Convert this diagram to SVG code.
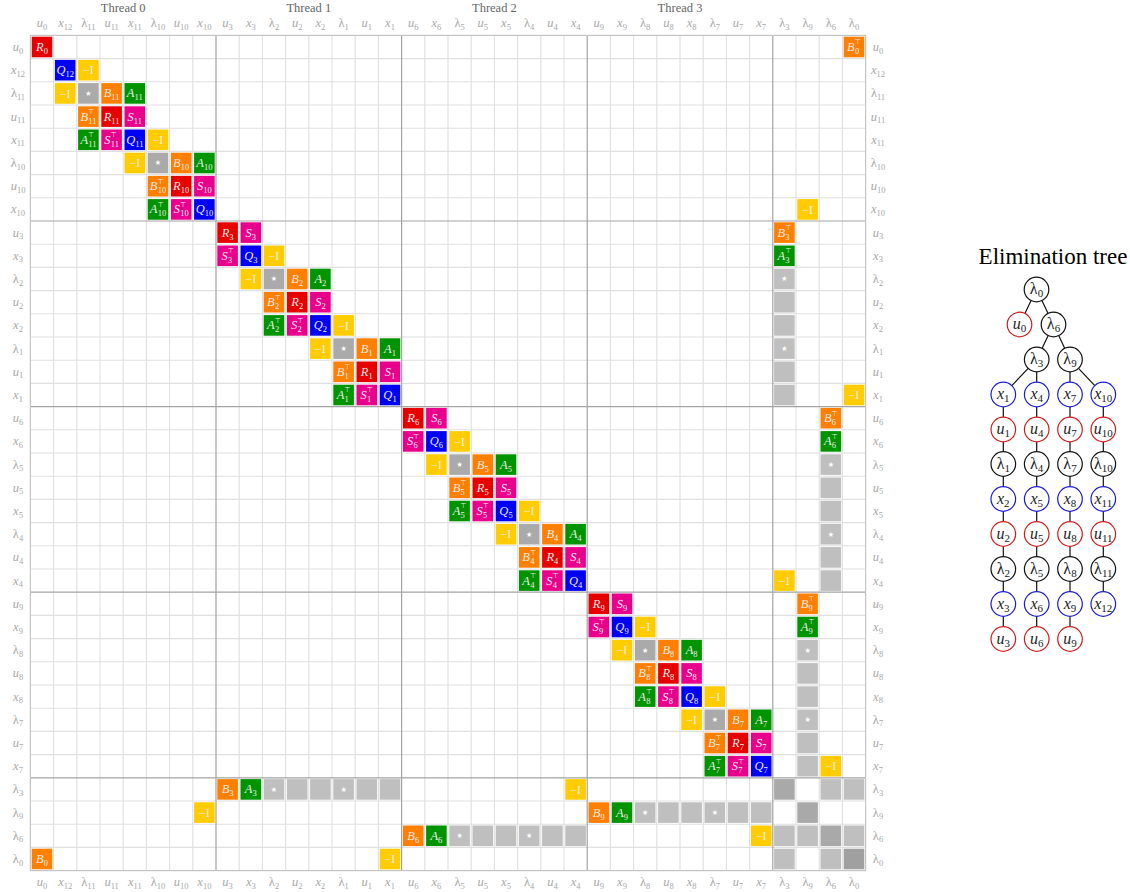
<svg xmlns="http://www.w3.org/2000/svg" xmlns:xlink="http://www.w3.org/1999/xlink" width="1130" height="892" viewBox="0 0 1130 892">
<style>
.R{fill:#e60000}.S{fill:#e8008c}.Q{fill:#0000f5}.B{fill:#ff7f00}.A{fill:#009400}.I{fill:#ffcc00}
.k{fill:#aaaaaa}.g{fill:#bfbfbf}.d{fill:#a9a9a9}.dd{fill:#a0a0a0}
.t{font-family:"Liberation Serif","DejaVu Serif",serif;font-size:12.5px;font-style:italic;fill:#ececec;text-anchor:middle}
.s{font-size:8.5px;font-style:normal}
.p{font-family:"DejaVu Sans",sans-serif;font-size:7px;font-style:normal}
.m{font-style:normal;font-size:12px}
.sr{font-family:"DejaVu Sans",sans-serif;font-size:14px;fill:#ffffff;text-anchor:middle}
.lb{font-family:"Liberation Serif","DejaVu Serif",serif;font-size:12.5px;font-style:italic;fill:#a8a8a8;text-anchor:middle}
.up{font-style:normal}
.s2{font-size:8.5px;font-style:normal}
.th{font-family:"Liberation Serif","DejaVu Serif",serif;font-size:12.5px;fill:#666666;text-anchor:middle}
.grid{fill:none;stroke:#e0e0e0;stroke-width:1.1}
.sep{fill:none;stroke:#a3a3a3;stroke-width:1.2}
.nd circle{fill:#ffffff;stroke-width:1.2}
.ck{stroke:#111111}.cb{stroke:#1c1cd6}.cr{stroke:#d01c1c}
.nt{font-family:"Liberation Serif","DejaVu Serif",serif;font-size:16px;fill:#222222;text-anchor:middle}
.nt .i{font-style:italic}
.ts{font-size:11px}
.edge{stroke:#111111;stroke-width:1.2;fill:none}
</style>
<defs>
<rect id="b" x="1.3" y="1.3" width="20.6" height="20.6"/>
</defs>
<rect width="1130" height="892" fill="#ffffff"/>

<!-- thread labels -->
<text class="th" x="123.2" y="12">Thread 0</text>
<text class="th" x="308.8" y="12">Thread 1</text>
<text class="th" x="494.4" y="12">Thread 2</text>
<text class="th" x="680" y="12">Thread 3</text>

<!-- grid -->
<path class="grid" d="M53.6 35.4V870.6M76.8 35.4V870.6M100 35.4V870.6M123.2 35.4V870.6M146.4 35.4V870.6M169.6 35.4V870.6M192.8 35.4V870.6M239.2 35.4V870.6M262.4 35.4V870.6M285.6 35.4V870.6M308.8 35.4V870.6M332 35.4V870.6M355.2 35.4V870.6M378.4 35.4V870.6M424.8 35.4V870.6M448 35.4V870.6M471.2 35.4V870.6M494.4 35.4V870.6M517.6 35.4V870.6M540.8 35.4V870.6M564 35.4V870.6M610.4 35.4V870.6M633.6 35.4V870.6M656.8 35.4V870.6M680 35.4V870.6M703.2 35.4V870.6M726.4 35.4V870.6M749.6 35.4V870.6M796 35.4V870.6M819.2 35.4V870.6M842.4 35.4V870.6M30.4 58.6H865.6M30.4 81.8H865.6M30.4 105H865.6M30.4 128.2H865.6M30.4 151.4H865.6M30.4 174.6H865.6M30.4 197.8H865.6M30.4 244.2H865.6M30.4 267.4H865.6M30.4 290.6H865.6M30.4 313.8H865.6M30.4 337H865.6M30.4 360.2H865.6M30.4 383.4H865.6M30.4 429.8H865.6M30.4 453H865.6M30.4 476.2H865.6M30.4 499.4H865.6M30.4 522.6H865.6M30.4 545.8H865.6M30.4 569H865.6M30.4 615.4H865.6M30.4 638.6H865.6M30.4 661.8H865.6M30.4 685H865.6M30.4 708.2H865.6M30.4 731.4H865.6M30.4 754.6H865.6M30.4 801H865.6M30.4 824.2H865.6M30.4 847.4H865.6"/>
<path class="sep" d="M216 35.4V870.6M401.6 35.4V870.6M587.2 35.4V870.6M772.8 35.4V870.6M30.4 221H865.6M30.4 406.6H865.6M30.4 592.2H865.6M30.4 777.8H865.6"/>
<rect x="30.4" y="35.4" width="835.2" height="835.2" fill="none" stroke="#c4c4c4" stroke-width="1.2"/>

<!-- column labels -->
<g id="cl" class="lb">
<text x="42" y="27">u<tspan class="s2" dy="2.5">0</tspan></text>
<text x="65.2" y="27">x<tspan class="s2" dy="2.5">12</tspan></text>
<text x="88.4" y="27"><tspan class="up">λ</tspan><tspan class="s2" dy="2.5">11</tspan></text>
<text x="111.6" y="27">u<tspan class="s2" dy="2.5">11</tspan></text>
<text x="134.8" y="27">x<tspan class="s2" dy="2.5">11</tspan></text>
<text x="158" y="27"><tspan class="up">λ</tspan><tspan class="s2" dy="2.5">10</tspan></text>
<text x="181.2" y="27">u<tspan class="s2" dy="2.5">10</tspan></text>
<text x="204.4" y="27">x<tspan class="s2" dy="2.5">10</tspan></text>
<text x="227.6" y="27">u<tspan class="s2" dy="2.5">3</tspan></text>
<text x="250.8" y="27">x<tspan class="s2" dy="2.5">3</tspan></text>
<text x="274" y="27"><tspan class="up">λ</tspan><tspan class="s2" dy="2.5">2</tspan></text>
<text x="297.2" y="27">u<tspan class="s2" dy="2.5">2</tspan></text>
<text x="320.4" y="27">x<tspan class="s2" dy="2.5">2</tspan></text>
<text x="343.6" y="27"><tspan class="up">λ</tspan><tspan class="s2" dy="2.5">1</tspan></text>
<text x="366.8" y="27">u<tspan class="s2" dy="2.5">1</tspan></text>
<text x="390" y="27">x<tspan class="s2" dy="2.5">1</tspan></text>
<text x="413.2" y="27">u<tspan class="s2" dy="2.5">6</tspan></text>
<text x="436.4" y="27">x<tspan class="s2" dy="2.5">6</tspan></text>
<text x="459.6" y="27"><tspan class="up">λ</tspan><tspan class="s2" dy="2.5">5</tspan></text>
<text x="482.8" y="27">u<tspan class="s2" dy="2.5">5</tspan></text>
<text x="506" y="27">x<tspan class="s2" dy="2.5">5</tspan></text>
<text x="529.2" y="27"><tspan class="up">λ</tspan><tspan class="s2" dy="2.5">4</tspan></text>
<text x="552.4" y="27">u<tspan class="s2" dy="2.5">4</tspan></text>
<text x="575.6" y="27">x<tspan class="s2" dy="2.5">4</tspan></text>
<text x="598.8" y="27">u<tspan class="s2" dy="2.5">9</tspan></text>
<text x="622" y="27">x<tspan class="s2" dy="2.5">9</tspan></text>
<text x="645.2" y="27"><tspan class="up">λ</tspan><tspan class="s2" dy="2.5">8</tspan></text>
<text x="668.4" y="27">u<tspan class="s2" dy="2.5">8</tspan></text>
<text x="691.6" y="27">x<tspan class="s2" dy="2.5">8</tspan></text>
<text x="714.8" y="27"><tspan class="up">λ</tspan><tspan class="s2" dy="2.5">7</tspan></text>
<text x="738" y="27">u<tspan class="s2" dy="2.5">7</tspan></text>
<text x="761.2" y="27">x<tspan class="s2" dy="2.5">7</tspan></text>
<text x="784.4" y="27"><tspan class="up">λ</tspan><tspan class="s2" dy="2.5">3</tspan></text>
<text x="807.6" y="27"><tspan class="up">λ</tspan><tspan class="s2" dy="2.5">9</tspan></text>
<text x="830.8" y="27"><tspan class="up">λ</tspan><tspan class="s2" dy="2.5">6</tspan></text>
<text x="854" y="27"><tspan class="up">λ</tspan><tspan class="s2" dy="2.5">0</tspan></text>
</g>
<use href="#cl" y="859"/>

<!-- row labels -->
<g id="rl" class="lb">
<text x="18" y="51">u<tspan class="s2" dy="2.5">0</tspan></text>
<text x="18" y="74.2">x<tspan class="s2" dy="2.5">12</tspan></text>
<text x="18" y="97.4"><tspan class="up">λ</tspan><tspan class="s2" dy="2.5">11</tspan></text>
<text x="18" y="120.6">u<tspan class="s2" dy="2.5">11</tspan></text>
<text x="18" y="143.8">x<tspan class="s2" dy="2.5">11</tspan></text>
<text x="18" y="167"><tspan class="up">λ</tspan><tspan class="s2" dy="2.5">10</tspan></text>
<text x="18" y="190.2">u<tspan class="s2" dy="2.5">10</tspan></text>
<text x="18" y="213.4">x<tspan class="s2" dy="2.5">10</tspan></text>
<text x="18" y="236.6">u<tspan class="s2" dy="2.5">3</tspan></text>
<text x="18" y="259.8">x<tspan class="s2" dy="2.5">3</tspan></text>
<text x="18" y="283"><tspan class="up">λ</tspan><tspan class="s2" dy="2.5">2</tspan></text>
<text x="18" y="306.2">u<tspan class="s2" dy="2.5">2</tspan></text>
<text x="18" y="329.4">x<tspan class="s2" dy="2.5">2</tspan></text>
<text x="18" y="352.6"><tspan class="up">λ</tspan><tspan class="s2" dy="2.5">1</tspan></text>
<text x="18" y="375.8">u<tspan class="s2" dy="2.5">1</tspan></text>
<text x="18" y="399">x<tspan class="s2" dy="2.5">1</tspan></text>
<text x="18" y="422.2">u<tspan class="s2" dy="2.5">6</tspan></text>
<text x="18" y="445.4">x<tspan class="s2" dy="2.5">6</tspan></text>
<text x="18" y="468.6"><tspan class="up">λ</tspan><tspan class="s2" dy="2.5">5</tspan></text>
<text x="18" y="491.8">u<tspan class="s2" dy="2.5">5</tspan></text>
<text x="18" y="515">x<tspan class="s2" dy="2.5">5</tspan></text>
<text x="18" y="538.2"><tspan class="up">λ</tspan><tspan class="s2" dy="2.5">4</tspan></text>
<text x="18" y="561.4">u<tspan class="s2" dy="2.5">4</tspan></text>
<text x="18" y="584.6">x<tspan class="s2" dy="2.5">4</tspan></text>
<text x="18" y="607.8">u<tspan class="s2" dy="2.5">9</tspan></text>
<text x="18" y="631">x<tspan class="s2" dy="2.5">9</tspan></text>
<text x="18" y="654.2"><tspan class="up">λ</tspan><tspan class="s2" dy="2.5">8</tspan></text>
<text x="18" y="677.4">u<tspan class="s2" dy="2.5">8</tspan></text>
<text x="18" y="700.6">x<tspan class="s2" dy="2.5">8</tspan></text>
<text x="18" y="723.8"><tspan class="up">λ</tspan><tspan class="s2" dy="2.5">7</tspan></text>
<text x="18" y="747">u<tspan class="s2" dy="2.5">7</tspan></text>
<text x="18" y="770.2">x<tspan class="s2" dy="2.5">7</tspan></text>
<text x="18" y="793.4"><tspan class="up">λ</tspan><tspan class="s2" dy="2.5">3</tspan></text>
<text x="18" y="816.6"><tspan class="up">λ</tspan><tspan class="s2" dy="2.5">9</tspan></text>
<text x="18" y="839.8"><tspan class="up">λ</tspan><tspan class="s2" dy="2.5">6</tspan></text>
<text x="18" y="863"><tspan class="up">λ</tspan><tspan class="s2" dy="2.5">0</tspan></text>
</g>
<use href="#rl" x="860"/>

<!-- matrix cells -->
<g id="cells">
<!-- row 0 -->
<g transform="translate(30.4 35.4)"><use href="#b" class="R"/><text class="t" x="11.6" y="15.5">R<tspan class="s" dy="3">0</tspan></text></g>
<g transform="translate(842.4 35.4)"><use href="#b" class="B"/><text class="t" x="11.6" y="15.5">B<tspan class="p" dy="-6.5">⊤</tspan><tspan class="s" dx="-5.9" dy="9.5">0</tspan></text></g>
<!-- row 1 -->
<g transform="translate(53.6 58.6)"><use href="#b" class="Q"/><text class="t" x="11.6" y="15.5">Q<tspan class="s" dy="3">12</tspan></text></g>
<g transform="translate(76.8 58.6)"><use href="#b" class="I"/><text class="t m" x="11.6" y="15.8">−I</text></g>
<!-- row 2 -->
<g transform="translate(53.6 81.8)"><use href="#b" class="I"/><text class="t m" x="11.6" y="15.8">−I</text></g>
<g transform="translate(76.8 81.8)"><use href="#b" class="k"/><text class="sr" x="11.6" y="16">⋆</text></g>
<g transform="translate(100 81.8)"><use href="#b" class="B"/><text class="t" x="11.6" y="15.5">B<tspan class="s" dy="3">11</tspan></text></g>
<g transform="translate(123.2 81.8)"><use href="#b" class="A"/><text class="t" x="11.6" y="15.5">A<tspan class="s" dy="3">11</tspan></text></g>
<!-- row 3 -->
<g transform="translate(76.8 105)"><use href="#b" class="B"/><text class="t" x="11.6" y="15.5">B<tspan class="p" dy="-6.5">⊤</tspan><tspan class="s" dx="-5.9" dy="9.5">11</tspan></text></g>
<g transform="translate(100 105)"><use href="#b" class="R"/><text class="t" x="11.6" y="15.5">R<tspan class="s" dy="3">11</tspan></text></g>
<g transform="translate(123.2 105)"><use href="#b" class="S"/><text class="t" x="11.6" y="15.5">S<tspan class="s" dy="3">11</tspan></text></g>
<!-- row 4 -->
<g transform="translate(76.8 128.2)"><use href="#b" class="A"/><text class="t" x="11.6" y="15.5">A<tspan class="p" dy="-6.5">⊤</tspan><tspan class="s" dx="-5.9" dy="9.5">11</tspan></text></g>
<g transform="translate(100 128.2)"><use href="#b" class="S"/><text class="t" x="11.6" y="15.5">S<tspan class="p" dy="-6.5">⊤</tspan><tspan class="s" dx="-5.9" dy="9.5">11</tspan></text></g>
<g transform="translate(123.2 128.2)"><use href="#b" class="Q"/><text class="t" x="11.6" y="15.5">Q<tspan class="s" dy="3">11</tspan></text></g>
<g transform="translate(146.4 128.2)"><use href="#b" class="I"/><text class="t m" x="11.6" y="15.8">−I</text></g>
<!-- row 5 -->
<g transform="translate(123.2 151.4)"><use href="#b" class="I"/><text class="t m" x="11.6" y="15.8">−I</text></g>
<g transform="translate(146.4 151.4)"><use href="#b" class="k"/><text class="sr" x="11.6" y="16">⋆</text></g>
<g transform="translate(169.6 151.4)"><use href="#b" class="B"/><text class="t" x="11.6" y="15.5">B<tspan class="s" dy="3">10</tspan></text></g>
<g transform="translate(192.8 151.4)"><use href="#b" class="A"/><text class="t" x="11.6" y="15.5">A<tspan class="s" dy="3">10</tspan></text></g>
<!-- row 6 -->
<g transform="translate(146.4 174.6)"><use href="#b" class="B"/><text class="t" x="11.6" y="15.5">B<tspan class="p" dy="-6.5">⊤</tspan><tspan class="s" dx="-5.9" dy="9.5">10</tspan></text></g>
<g transform="translate(169.6 174.6)"><use href="#b" class="R"/><text class="t" x="11.6" y="15.5">R<tspan class="s" dy="3">10</tspan></text></g>
<g transform="translate(192.8 174.6)"><use href="#b" class="S"/><text class="t" x="11.6" y="15.5">S<tspan class="s" dy="3">10</tspan></text></g>
<!-- row 7 -->
<g transform="translate(146.4 197.8)"><use href="#b" class="A"/><text class="t" x="11.6" y="15.5">A<tspan class="p" dy="-6.5">⊤</tspan><tspan class="s" dx="-5.9" dy="9.5">10</tspan></text></g>
<g transform="translate(169.6 197.8)"><use href="#b" class="S"/><text class="t" x="11.6" y="15.5">S<tspan class="p" dy="-6.5">⊤</tspan><tspan class="s" dx="-5.9" dy="9.5">10</tspan></text></g>
<g transform="translate(192.8 197.8)"><use href="#b" class="Q"/><text class="t" x="11.6" y="15.5">Q<tspan class="s" dy="3">10</tspan></text></g>
<g transform="translate(796 197.8)"><use href="#b" class="I"/><text class="t m" x="11.6" y="15.8">−I</text></g>
<!-- row 8 -->
<g transform="translate(216 221)"><use href="#b" class="R"/><text class="t" x="11.6" y="15.5">R<tspan class="s" dy="3">3</tspan></text></g>
<g transform="translate(239.2 221)"><use href="#b" class="S"/><text class="t" x="11.6" y="15.5">S<tspan class="s" dy="3">3</tspan></text></g>
<g transform="translate(772.8 221)"><use href="#b" class="B"/><text class="t" x="11.6" y="15.5">B<tspan class="p" dy="-6.5">⊤</tspan><tspan class="s" dx="-5.9" dy="9.5">3</tspan></text></g>
<!-- row 9 -->
<g transform="translate(216 244.2)"><use href="#b" class="S"/><text class="t" x="11.6" y="15.5">S<tspan class="p" dy="-6.5">⊤</tspan><tspan class="s" dx="-5.9" dy="9.5">3</tspan></text></g>
<g transform="translate(239.2 244.2)"><use href="#b" class="Q"/><text class="t" x="11.6" y="15.5">Q<tspan class="s" dy="3">3</tspan></text></g>
<g transform="translate(262.4 244.2)"><use href="#b" class="I"/><text class="t m" x="11.6" y="15.8">−I</text></g>
<g transform="translate(772.8 244.2)"><use href="#b" class="A"/><text class="t" x="11.6" y="15.5">A<tspan class="p" dy="-6.5">⊤</tspan><tspan class="s" dx="-5.9" dy="9.5">3</tspan></text></g>
<!-- row 10 -->
<g transform="translate(239.2 267.4)"><use href="#b" class="I"/><text class="t m" x="11.6" y="15.8">−I</text></g>
<g transform="translate(262.4 267.4)"><use href="#b" class="k"/><text class="sr" x="11.6" y="16">⋆</text></g>
<g transform="translate(285.6 267.4)"><use href="#b" class="B"/><text class="t" x="11.6" y="15.5">B<tspan class="s" dy="3">2</tspan></text></g>
<g transform="translate(308.8 267.4)"><use href="#b" class="A"/><text class="t" x="11.6" y="15.5">A<tspan class="s" dy="3">2</tspan></text></g>
<g transform="translate(772.8 267.4)"><use href="#b" class="g"/><text class="sr" x="11.6" y="16">⋆</text></g>
<!-- row 11 -->
<g transform="translate(262.4 290.6)"><use href="#b" class="B"/><text class="t" x="11.6" y="15.5">B<tspan class="p" dy="-6.5">⊤</tspan><tspan class="s" dx="-5.9" dy="9.5">2</tspan></text></g>
<g transform="translate(285.6 290.6)"><use href="#b" class="R"/><text class="t" x="11.6" y="15.5">R<tspan class="s" dy="3">2</tspan></text></g>
<g transform="translate(308.8 290.6)"><use href="#b" class="S"/><text class="t" x="11.6" y="15.5">S<tspan class="s" dy="3">2</tspan></text></g>
<use href="#b" class="g" x="772.8" y="290.6"/>
<!-- row 12 -->
<g transform="translate(262.4 313.8)"><use href="#b" class="A"/><text class="t" x="11.6" y="15.5">A<tspan class="p" dy="-6.5">⊤</tspan><tspan class="s" dx="-5.9" dy="9.5">2</tspan></text></g>
<g transform="translate(285.6 313.8)"><use href="#b" class="S"/><text class="t" x="11.6" y="15.5">S<tspan class="p" dy="-6.5">⊤</tspan><tspan class="s" dx="-5.9" dy="9.5">2</tspan></text></g>
<g transform="translate(308.8 313.8)"><use href="#b" class="Q"/><text class="t" x="11.6" y="15.5">Q<tspan class="s" dy="3">2</tspan></text></g>
<g transform="translate(332 313.8)"><use href="#b" class="I"/><text class="t m" x="11.6" y="15.8">−I</text></g>
<use href="#b" class="g" x="772.8" y="313.8"/>
<!-- row 13 -->
<g transform="translate(308.8 337)"><use href="#b" class="I"/><text class="t m" x="11.6" y="15.8">−I</text></g>
<g transform="translate(332 337)"><use href="#b" class="k"/><text class="sr" x="11.6" y="16">⋆</text></g>
<g transform="translate(355.2 337)"><use href="#b" class="B"/><text class="t" x="11.6" y="15.5">B<tspan class="s" dy="3">1</tspan></text></g>
<g transform="translate(378.4 337)"><use href="#b" class="A"/><text class="t" x="11.6" y="15.5">A<tspan class="s" dy="3">1</tspan></text></g>
<g transform="translate(772.8 337)"><use href="#b" class="g"/><text class="sr" x="11.6" y="16">⋆</text></g>
<!-- row 14 -->
<g transform="translate(332 360.2)"><use href="#b" class="B"/><text class="t" x="11.6" y="15.5">B<tspan class="p" dy="-6.5">⊤</tspan><tspan class="s" dx="-5.9" dy="9.5">1</tspan></text></g>
<g transform="translate(355.2 360.2)"><use href="#b" class="R"/><text class="t" x="11.6" y="15.5">R<tspan class="s" dy="3">1</tspan></text></g>
<g transform="translate(378.4 360.2)"><use href="#b" class="S"/><text class="t" x="11.6" y="15.5">S<tspan class="s" dy="3">1</tspan></text></g>
<use href="#b" class="g" x="772.8" y="360.2"/>
<!-- row 15 -->
<g transform="translate(332 383.4)"><use href="#b" class="A"/><text class="t" x="11.6" y="15.5">A<tspan class="p" dy="-6.5">⊤</tspan><tspan class="s" dx="-5.9" dy="9.5">1</tspan></text></g>
<g transform="translate(355.2 383.4)"><use href="#b" class="S"/><text class="t" x="11.6" y="15.5">S<tspan class="p" dy="-6.5">⊤</tspan><tspan class="s" dx="-5.9" dy="9.5">1</tspan></text></g>
<g transform="translate(378.4 383.4)"><use href="#b" class="Q"/><text class="t" x="11.6" y="15.5">Q<tspan class="s" dy="3">1</tspan></text></g>
<use href="#b" class="g" x="772.8" y="383.4"/>
<g transform="translate(842.4 383.4)"><use href="#b" class="I"/><text class="t m" x="11.6" y="15.8">−I</text></g>
<!-- row 16 -->
<g transform="translate(401.6 406.6)"><use href="#b" class="R"/><text class="t" x="11.6" y="15.5">R<tspan class="s" dy="3">6</tspan></text></g>
<g transform="translate(424.8 406.6)"><use href="#b" class="S"/><text class="t" x="11.6" y="15.5">S<tspan class="s" dy="3">6</tspan></text></g>
<g transform="translate(819.2 406.6)"><use href="#b" class="B"/><text class="t" x="11.6" y="15.5">B<tspan class="p" dy="-6.5">⊤</tspan><tspan class="s" dx="-5.9" dy="9.5">6</tspan></text></g>
<!-- row 17 -->
<g transform="translate(401.6 429.8)"><use href="#b" class="S"/><text class="t" x="11.6" y="15.5">S<tspan class="p" dy="-6.5">⊤</tspan><tspan class="s" dx="-5.9" dy="9.5">6</tspan></text></g>
<g transform="translate(424.8 429.8)"><use href="#b" class="Q"/><text class="t" x="11.6" y="15.5">Q<tspan class="s" dy="3">6</tspan></text></g>
<g transform="translate(448 429.8)"><use href="#b" class="I"/><text class="t m" x="11.6" y="15.8">−I</text></g>
<g transform="translate(819.2 429.8)"><use href="#b" class="A"/><text class="t" x="11.6" y="15.5">A<tspan class="p" dy="-6.5">⊤</tspan><tspan class="s" dx="-5.9" dy="9.5">6</tspan></text></g>
<!-- row 18 -->
<g transform="translate(424.8 453)"><use href="#b" class="I"/><text class="t m" x="11.6" y="15.8">−I</text></g>
<g transform="translate(448 453)"><use href="#b" class="k"/><text class="sr" x="11.6" y="16">⋆</text></g>
<g transform="translate(471.2 453)"><use href="#b" class="B"/><text class="t" x="11.6" y="15.5">B<tspan class="s" dy="3">5</tspan></text></g>
<g transform="translate(494.4 453)"><use href="#b" class="A"/><text class="t" x="11.6" y="15.5">A<tspan class="s" dy="3">5</tspan></text></g>
<g transform="translate(819.2 453)"><use href="#b" class="g"/><text class="sr" x="11.6" y="16">⋆</text></g>
<!-- row 19 -->
<g transform="translate(448 476.2)"><use href="#b" class="B"/><text class="t" x="11.6" y="15.5">B<tspan class="p" dy="-6.5">⊤</tspan><tspan class="s" dx="-5.9" dy="9.5">5</tspan></text></g>
<g transform="translate(471.2 476.2)"><use href="#b" class="R"/><text class="t" x="11.6" y="15.5">R<tspan class="s" dy="3">5</tspan></text></g>
<g transform="translate(494.4 476.2)"><use href="#b" class="S"/><text class="t" x="11.6" y="15.5">S<tspan class="s" dy="3">5</tspan></text></g>
<use href="#b" class="g" x="819.2" y="476.2"/>
<!-- row 20 -->
<g transform="translate(448 499.4)"><use href="#b" class="A"/><text class="t" x="11.6" y="15.5">A<tspan class="p" dy="-6.5">⊤</tspan><tspan class="s" dx="-5.9" dy="9.5">5</tspan></text></g>
<g transform="translate(471.2 499.4)"><use href="#b" class="S"/><text class="t" x="11.6" y="15.5">S<tspan class="p" dy="-6.5">⊤</tspan><tspan class="s" dx="-5.9" dy="9.5">5</tspan></text></g>
<g transform="translate(494.4 499.4)"><use href="#b" class="Q"/><text class="t" x="11.6" y="15.5">Q<tspan class="s" dy="3">5</tspan></text></g>
<g transform="translate(517.6 499.4)"><use href="#b" class="I"/><text class="t m" x="11.6" y="15.8">−I</text></g>
<use href="#b" class="g" x="819.2" y="499.4"/>
<!-- row 21 -->
<g transform="translate(494.4 522.6)"><use href="#b" class="I"/><text class="t m" x="11.6" y="15.8">−I</text></g>
<g transform="translate(517.6 522.6)"><use href="#b" class="k"/><text class="sr" x="11.6" y="16">⋆</text></g>
<g transform="translate(540.8 522.6)"><use href="#b" class="B"/><text class="t" x="11.6" y="15.5">B<tspan class="s" dy="3">4</tspan></text></g>
<g transform="translate(564 522.6)"><use href="#b" class="A"/><text class="t" x="11.6" y="15.5">A<tspan class="s" dy="3">4</tspan></text></g>
<g transform="translate(819.2 522.6)"><use href="#b" class="g"/><text class="sr" x="11.6" y="16">⋆</text></g>
<!-- row 22 -->
<g transform="translate(517.6 545.8)"><use href="#b" class="B"/><text class="t" x="11.6" y="15.5">B<tspan class="p" dy="-6.5">⊤</tspan><tspan class="s" dx="-5.9" dy="9.5">4</tspan></text></g>
<g transform="translate(540.8 545.8)"><use href="#b" class="R"/><text class="t" x="11.6" y="15.5">R<tspan class="s" dy="3">4</tspan></text></g>
<g transform="translate(564 545.8)"><use href="#b" class="S"/><text class="t" x="11.6" y="15.5">S<tspan class="s" dy="3">4</tspan></text></g>
<use href="#b" class="g" x="819.2" y="545.8"/>
<!-- row 23 -->
<g transform="translate(517.6 569)"><use href="#b" class="A"/><text class="t" x="11.6" y="15.5">A<tspan class="p" dy="-6.5">⊤</tspan><tspan class="s" dx="-5.9" dy="9.5">4</tspan></text></g>
<g transform="translate(540.8 569)"><use href="#b" class="S"/><text class="t" x="11.6" y="15.5">S<tspan class="p" dy="-6.5">⊤</tspan><tspan class="s" dx="-5.9" dy="9.5">4</tspan></text></g>
<g transform="translate(564 569)"><use href="#b" class="Q"/><text class="t" x="11.6" y="15.5">Q<tspan class="s" dy="3">4</tspan></text></g>
<g transform="translate(772.8 569)"><use href="#b" class="I"/><text class="t m" x="11.6" y="15.8">−I</text></g>
<use href="#b" class="g" x="819.2" y="569"/>
<!-- row 24 -->
<g transform="translate(587.2 592.2)"><use href="#b" class="R"/><text class="t" x="11.6" y="15.5">R<tspan class="s" dy="3">9</tspan></text></g>
<g transform="translate(610.4 592.2)"><use href="#b" class="S"/><text class="t" x="11.6" y="15.5">S<tspan class="s" dy="3">9</tspan></text></g>
<g transform="translate(796 592.2)"><use href="#b" class="B"/><text class="t" x="11.6" y="15.5">B<tspan class="p" dy="-6.5">⊤</tspan><tspan class="s" dx="-5.9" dy="9.5">9</tspan></text></g>
<!-- row 25 -->
<g transform="translate(587.2 615.4)"><use href="#b" class="S"/><text class="t" x="11.6" y="15.5">S<tspan class="p" dy="-6.5">⊤</tspan><tspan class="s" dx="-5.9" dy="9.5">9</tspan></text></g>
<g transform="translate(610.4 615.4)"><use href="#b" class="Q"/><text class="t" x="11.6" y="15.5">Q<tspan class="s" dy="3">9</tspan></text></g>
<g transform="translate(633.6 615.4)"><use href="#b" class="I"/><text class="t m" x="11.6" y="15.8">−I</text></g>
<g transform="translate(796 615.4)"><use href="#b" class="A"/><text class="t" x="11.6" y="15.5">A<tspan class="p" dy="-6.5">⊤</tspan><tspan class="s" dx="-5.9" dy="9.5">9</tspan></text></g>
<!-- row 26 -->
<g transform="translate(610.4 638.6)"><use href="#b" class="I"/><text class="t m" x="11.6" y="15.8">−I</text></g>
<g transform="translate(633.6 638.6)"><use href="#b" class="k"/><text class="sr" x="11.6" y="16">⋆</text></g>
<g transform="translate(656.8 638.6)"><use href="#b" class="B"/><text class="t" x="11.6" y="15.5">B<tspan class="s" dy="3">8</tspan></text></g>
<g transform="translate(680 638.6)"><use href="#b" class="A"/><text class="t" x="11.6" y="15.5">A<tspan class="s" dy="3">8</tspan></text></g>
<g transform="translate(796 638.6)"><use href="#b" class="g"/><text class="sr" x="11.6" y="16">⋆</text></g>
<!-- row 27 -->
<g transform="translate(633.6 661.8)"><use href="#b" class="B"/><text class="t" x="11.6" y="15.5">B<tspan class="p" dy="-6.5">⊤</tspan><tspan class="s" dx="-5.9" dy="9.5">8</tspan></text></g>
<g transform="translate(656.8 661.8)"><use href="#b" class="R"/><text class="t" x="11.6" y="15.5">R<tspan class="s" dy="3">8</tspan></text></g>
<g transform="translate(680 661.8)"><use href="#b" class="S"/><text class="t" x="11.6" y="15.5">S<tspan class="s" dy="3">8</tspan></text></g>
<use href="#b" class="g" x="796" y="661.8"/>
<!-- row 28 -->
<g transform="translate(633.6 685)"><use href="#b" class="A"/><text class="t" x="11.6" y="15.5">A<tspan class="p" dy="-6.5">⊤</tspan><tspan class="s" dx="-5.9" dy="9.5">8</tspan></text></g>
<g transform="translate(656.8 685)"><use href="#b" class="S"/><text class="t" x="11.6" y="15.5">S<tspan class="p" dy="-6.5">⊤</tspan><tspan class="s" dx="-5.9" dy="9.5">8</tspan></text></g>
<g transform="translate(680 685)"><use href="#b" class="Q"/><text class="t" x="11.6" y="15.5">Q<tspan class="s" dy="3">8</tspan></text></g>
<g transform="translate(703.2 685)"><use href="#b" class="I"/><text class="t m" x="11.6" y="15.8">−I</text></g>
<use href="#b" class="g" x="796" y="685"/>
<!-- row 29 -->
<g transform="translate(680 708.2)"><use href="#b" class="I"/><text class="t m" x="11.6" y="15.8">−I</text></g>
<g transform="translate(703.2 708.2)"><use href="#b" class="k"/><text class="sr" x="11.6" y="16">⋆</text></g>
<g transform="translate(726.4 708.2)"><use href="#b" class="B"/><text class="t" x="11.6" y="15.5">B<tspan class="s" dy="3">7</tspan></text></g>
<g transform="translate(749.6 708.2)"><use href="#b" class="A"/><text class="t" x="11.6" y="15.5">A<tspan class="s" dy="3">7</tspan></text></g>
<g transform="translate(796 708.2)"><use href="#b" class="g"/><text class="sr" x="11.6" y="16">⋆</text></g>
<!-- row 30 -->
<g transform="translate(703.2 731.4)"><use href="#b" class="B"/><text class="t" x="11.6" y="15.5">B<tspan class="p" dy="-6.5">⊤</tspan><tspan class="s" dx="-5.9" dy="9.5">7</tspan></text></g>
<g transform="translate(726.4 731.4)"><use href="#b" class="R"/><text class="t" x="11.6" y="15.5">R<tspan class="s" dy="3">7</tspan></text></g>
<g transform="translate(749.6 731.4)"><use href="#b" class="S"/><text class="t" x="11.6" y="15.5">S<tspan class="s" dy="3">7</tspan></text></g>
<use href="#b" class="g" x="796" y="731.4"/>
<!-- row 31 -->
<g transform="translate(703.2 754.6)"><use href="#b" class="A"/><text class="t" x="11.6" y="15.5">A<tspan class="p" dy="-6.5">⊤</tspan><tspan class="s" dx="-5.9" dy="9.5">7</tspan></text></g>
<g transform="translate(726.4 754.6)"><use href="#b" class="S"/><text class="t" x="11.6" y="15.5">S<tspan class="p" dy="-6.5">⊤</tspan><tspan class="s" dx="-5.9" dy="9.5">7</tspan></text></g>
<g transform="translate(749.6 754.6)"><use href="#b" class="Q"/><text class="t" x="11.6" y="15.5">Q<tspan class="s" dy="3">7</tspan></text></g>
<use href="#b" class="g" x="796" y="754.6"/>
<g transform="translate(819.2 754.6)"><use href="#b" class="I"/><text class="t m" x="11.6" y="15.8">−I</text></g>
<!-- row 32 lambda3 -->
<g transform="translate(216 777.8)"><use href="#b" class="B"/><text class="t" x="11.6" y="15.5">B<tspan class="s" dy="3">3</tspan></text></g>
<g transform="translate(239.2 777.8)"><use href="#b" class="A"/><text class="t" x="11.6" y="15.5">A<tspan class="s" dy="3">3</tspan></text></g>
<g transform="translate(262.4 777.8)"><use href="#b" class="g"/><text class="sr" x="11.6" y="16">⋆</text></g>
<use href="#b" class="g" x="285.6" y="777.8"/>
<use href="#b" class="g" x="308.8" y="777.8"/>
<g transform="translate(332 777.8)"><use href="#b" class="g"/><text class="sr" x="11.6" y="16">⋆</text></g>
<use href="#b" class="g" x="355.2" y="777.8"/>
<use href="#b" class="g" x="378.4" y="777.8"/>
<g transform="translate(564 777.8)"><use href="#b" class="I"/><text class="t m" x="11.6" y="15.8">−I</text></g>
<use href="#b" class="d" x="772.8" y="777.8"/>
<use href="#b" class="g" x="819.2" y="777.8"/>
<use href="#b" class="g" x="842.4" y="777.8"/>
<!-- row 33 lambda9 -->
<g transform="translate(192.8 801)"><use href="#b" class="I"/><text class="t m" x="11.6" y="15.8">−I</text></g>
<g transform="translate(587.2 801)"><use href="#b" class="B"/><text class="t" x="11.6" y="15.5">B<tspan class="s" dy="3">9</tspan></text></g>
<g transform="translate(610.4 801)"><use href="#b" class="A"/><text class="t" x="11.6" y="15.5">A<tspan class="s" dy="3">9</tspan></text></g>
<g transform="translate(633.6 801)"><use href="#b" class="g"/><text class="sr" x="11.6" y="16">⋆</text></g>
<use href="#b" class="g" x="656.8" y="801"/>
<use href="#b" class="g" x="680" y="801"/>
<g transform="translate(703.2 801)"><use href="#b" class="g"/><text class="sr" x="11.6" y="16">⋆</text></g>
<use href="#b" class="g" x="726.4" y="801"/>
<use href="#b" class="g" x="749.6" y="801"/>
<use href="#b" class="d" x="796" y="801"/>
<!-- row 34 lambda6 -->
<g transform="translate(401.6 824.2)"><use href="#b" class="B"/><text class="t" x="11.6" y="15.5">B<tspan class="s" dy="3">6</tspan></text></g>
<g transform="translate(424.8 824.2)"><use href="#b" class="A"/><text class="t" x="11.6" y="15.5">A<tspan class="s" dy="3">6</tspan></text></g>
<g transform="translate(448 824.2)"><use href="#b" class="g"/><text class="sr" x="11.6" y="16">⋆</text></g>
<use href="#b" class="g" x="471.2" y="824.2"/>
<use href="#b" class="g" x="494.4" y="824.2"/>
<g transform="translate(517.6 824.2)"><use href="#b" class="g"/><text class="sr" x="11.6" y="16">⋆</text></g>
<use href="#b" class="g" x="540.8" y="824.2"/>
<use href="#b" class="g" x="564" y="824.2"/>
<g transform="translate(749.6 824.2)"><use href="#b" class="I"/><text class="t m" x="11.6" y="15.8">−I</text></g>
<use href="#b" class="g" x="772.8" y="824.2"/>
<use href="#b" class="g" x="796" y="824.2"/>
<use href="#b" class="d" x="819.2" y="824.2"/>
<use href="#b" class="g" x="842.4" y="824.2"/>
<!-- row 35 lambda0 -->
<g transform="translate(30.4 847.4)"><use href="#b" class="B"/><text class="t" x="11.6" y="15.5">B<tspan class="s" dy="3">0</tspan></text></g>
<g transform="translate(378.4 847.4)"><use href="#b" class="I"/><text class="t m" x="11.6" y="15.8">−I</text></g>
<use href="#b" class="g" x="772.8" y="847.4"/>
<use href="#b" class="g" x="819.2" y="847.4"/>
<use href="#b" class="dd" x="842.4" y="847.4"/>
</g>

<!-- elimination tree -->
<text x="1053" y="263.5" font-family="Liberation Serif, DejaVu Serif, serif" font-size="23" fill="#000000" text-anchor="middle">Elimination tree</text>

<g id="edges" class="edge">
<path d="M1031.1 300.6L1024.9 313.4M1041.9 300.6L1048.1 313.4M1048.2 335.6L1042 348.4M1058.7 335.6L1064.8 348.4M1028.2 368.4L1011.8 385.6M1036.7 371.8V382.2M1070 371.8V382.2M1078.5 368.4L1094.8 385.6"/>
<path d="M1003.3 406.8V417.2M1003.3 441.8V451.7M1003.3 476.3V486.7M1003.3 511.3V521.7M1003.3 546.3V556.7M1003.3 581.3V591.7M1003.3 616.3V626.7"/>
<path d="M1036.7 406.8V417.2M1036.7 441.8V451.7M1036.7 476.3V486.7M1036.7 511.3V521.7M1036.7 546.3V556.7M1036.7 581.3V591.7M1036.7 616.3V626.7"/>
<path d="M1070 406.8V417.2M1070 441.8V451.7M1070 476.3V486.7M1070 511.3V521.7M1070 546.3V556.7M1070 581.3V591.7M1070 616.3V626.7"/>
<path d="M1103.3 406.8V417.2M1103.3 441.8V451.7M1103.3 476.3V486.7M1103.3 511.3V521.7M1103.3 546.3V556.7M1103.3 581.3V591.7"/>
</g>

<g id="tree" class="nt">
<g id="n-l0" class="nd"><circle class="ck" cx="1036.5" cy="289.5" r="12.3"/><text x="1036.5" y="294">λ<tspan class="ts" dy="3">0</tspan></text></g>
<g id="n-u0" class="nd"><circle class="cr" cx="1019.5" cy="324.5" r="12.3"/><text x="1019.5" y="329"><tspan class="i">u</tspan><tspan class="ts" dy="3">0</tspan></text></g>
<g id="n-l6" class="nd"><circle class="ck" cx="1053.5" cy="324.5" r="12.3"/><text x="1053.5" y="329">λ<tspan class="ts" dy="3">6</tspan></text></g>
<g id="n-l3" class="nd"><circle class="ck" cx="1036.7" cy="359.5" r="12.3"/><text x="1036.7" y="364">λ<tspan class="ts" dy="3">3</tspan></text></g>
<g id="n-l9" class="nd"><circle class="ck" cx="1070" cy="359.5" r="12.3"/><text x="1070" y="364">λ<tspan class="ts" dy="3">9</tspan></text></g>

<g id="n-x1" class="nd"><circle class="cb" cx="1003.3" cy="394.5" r="12.3"/><text x="1003.3" y="399"><tspan class="i">x</tspan><tspan class="ts" dy="3">1</tspan></text></g>
<g id="n-u1" class="nd"><circle class="cr" cx="1003.3" cy="429.5" r="12.3"/><text x="1003.3" y="434"><tspan class="i">u</tspan><tspan class="ts" dy="3">1</tspan></text></g>
<g id="n-l1" class="nd"><circle class="ck" cx="1003.3" cy="464" r="12.3"/><text x="1003.3" y="468.5">λ<tspan class="ts" dy="3">1</tspan></text></g>
<g id="n-x2" class="nd"><circle class="cb" cx="1003.3" cy="499" r="12.3"/><text x="1003.3" y="503.5"><tspan class="i">x</tspan><tspan class="ts" dy="3">2</tspan></text></g>
<g id="n-u2" class="nd"><circle class="cr" cx="1003.3" cy="534" r="12.3"/><text x="1003.3" y="538.5"><tspan class="i">u</tspan><tspan class="ts" dy="3">2</tspan></text></g>
<g id="n-l2" class="nd"><circle class="ck" cx="1003.3" cy="569" r="12.3"/><text x="1003.3" y="573.5">λ<tspan class="ts" dy="3">2</tspan></text></g>
<g id="n-x3" class="nd"><circle class="cb" cx="1003.3" cy="604" r="12.3"/><text x="1003.3" y="608.5"><tspan class="i">x</tspan><tspan class="ts" dy="3">3</tspan></text></g>
<g id="n-u3" class="nd"><circle class="cr" cx="1003.3" cy="639" r="12.3"/><text x="1003.3" y="643.5"><tspan class="i">u</tspan><tspan class="ts" dy="3">3</tspan></text></g>

<g id="n-x4" class="nd"><circle class="cb" cx="1036.7" cy="394.5" r="12.3"/><text x="1036.7" y="399"><tspan class="i">x</tspan><tspan class="ts" dy="3">4</tspan></text></g>
<g id="n-u4" class="nd"><circle class="cr" cx="1036.7" cy="429.5" r="12.3"/><text x="1036.7" y="434"><tspan class="i">u</tspan><tspan class="ts" dy="3">4</tspan></text></g>
<g id="n-l4" class="nd"><circle class="ck" cx="1036.7" cy="464" r="12.3"/><text x="1036.7" y="468.5">λ<tspan class="ts" dy="3">4</tspan></text></g>
<g id="n-x5" class="nd"><circle class="cb" cx="1036.7" cy="499" r="12.3"/><text x="1036.7" y="503.5"><tspan class="i">x</tspan><tspan class="ts" dy="3">5</tspan></text></g>
<g id="n-u5" class="nd"><circle class="cr" cx="1036.7" cy="534" r="12.3"/><text x="1036.7" y="538.5"><tspan class="i">u</tspan><tspan class="ts" dy="3">5</tspan></text></g>
<g id="n-l5" class="nd"><circle class="ck" cx="1036.7" cy="569" r="12.3"/><text x="1036.7" y="573.5">λ<tspan class="ts" dy="3">5</tspan></text></g>
<g id="n-x6" class="nd"><circle class="cb" cx="1036.7" cy="604" r="12.3"/><text x="1036.7" y="608.5"><tspan class="i">x</tspan><tspan class="ts" dy="3">6</tspan></text></g>
<g id="n-u6" class="nd"><circle class="cr" cx="1036.7" cy="639" r="12.3"/><text x="1036.7" y="643.5"><tspan class="i">u</tspan><tspan class="ts" dy="3">6</tspan></text></g>

<g id="n-x7" class="nd"><circle class="cb" cx="1070" cy="394.5" r="12.3"/><text x="1070" y="399"><tspan class="i">x</tspan><tspan class="ts" dy="3">7</tspan></text></g>
<g id="n-u7" class="nd"><circle class="cr" cx="1070" cy="429.5" r="12.3"/><text x="1070" y="434"><tspan class="i">u</tspan><tspan class="ts" dy="3">7</tspan></text></g>
<g id="n-l7" class="nd"><circle class="ck" cx="1070" cy="464" r="12.3"/><text x="1070" y="468.5">λ<tspan class="ts" dy="3">7</tspan></text></g>
<g id="n-x8" class="nd"><circle class="cb" cx="1070" cy="499" r="12.3"/><text x="1070" y="503.5"><tspan class="i">x</tspan><tspan class="ts" dy="3">8</tspan></text></g>
<g id="n-u8" class="nd"><circle class="cr" cx="1070" cy="534" r="12.3"/><text x="1070" y="538.5"><tspan class="i">u</tspan><tspan class="ts" dy="3">8</tspan></text></g>
<g id="n-l8" class="nd"><circle class="ck" cx="1070" cy="569" r="12.3"/><text x="1070" y="573.5">λ<tspan class="ts" dy="3">8</tspan></text></g>
<g id="n-x9" class="nd"><circle class="cb" cx="1070" cy="604" r="12.3"/><text x="1070" y="608.5"><tspan class="i">x</tspan><tspan class="ts" dy="3">9</tspan></text></g>
<g id="n-u9" class="nd"><circle class="cr" cx="1070" cy="639" r="12.3"/><text x="1070" y="643.5"><tspan class="i">u</tspan><tspan class="ts" dy="3">9</tspan></text></g>

<g id="n-x10" class="nd"><circle class="cb" cx="1103.3" cy="394.5" r="12.3"/><text x="1103.3" y="399"><tspan class="i">x</tspan><tspan class="ts" dy="3">10</tspan></text></g>
<g id="n-u10" class="nd"><circle class="cr" cx="1103.3" cy="429.5" r="12.3"/><text x="1103.3" y="434"><tspan class="i">u</tspan><tspan class="ts" dy="3">10</tspan></text></g>
<g id="n-l10" class="nd"><circle class="ck" cx="1103.3" cy="464" r="12.3"/><text x="1103.3" y="468.5">λ<tspan class="ts" dy="3">10</tspan></text></g>
<g id="n-x11" class="nd"><circle class="cb" cx="1103.3" cy="499" r="12.3"/><text x="1103.3" y="503.5"><tspan class="i">x</tspan><tspan class="ts" dy="3">11</tspan></text></g>
<g id="n-u11" class="nd"><circle class="cr" cx="1103.3" cy="534" r="12.3"/><text x="1103.3" y="538.5"><tspan class="i">u</tspan><tspan class="ts" dy="3">11</tspan></text></g>
<g id="n-l11" class="nd"><circle class="ck" cx="1103.3" cy="569" r="12.3"/><text x="1103.3" y="573.5">λ<tspan class="ts" dy="3">11</tspan></text></g>
<g id="n-x12" class="nd"><circle class="cb" cx="1103.3" cy="604" r="12.3"/><text x="1103.3" y="608.5"><tspan class="i">x</tspan><tspan class="ts" dy="3">12</tspan></text></g>
</g>
</svg>
